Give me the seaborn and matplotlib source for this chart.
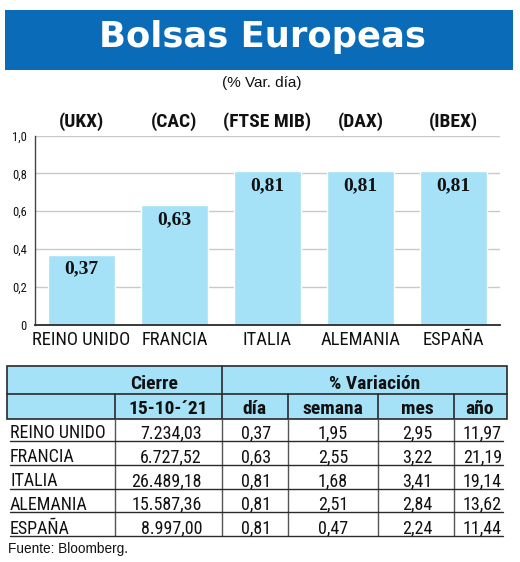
import matplotlib
matplotlib.use("Agg")
import matplotlib.pyplot as plt
import matplotlib.font_manager as fm
import matplotlib.transforms as mtransforms
from matplotlib.patches import Rectangle
import seaborn as sns

# ---------------- data ----------------
countries = ["REINO UNIDO", "FRANCIA", "ITALIA", "ALEMANIA", "ESPAÑA"]
codes = ["(UKX)", "(CAC)", "(FTSE MIB)", "(DAX)", "(IBEX)"]
var_dia = [0.37, 0.63, 0.81, 0.81, 0.81]
cierre = [7234.03, 6727.52, 26489.18, 15587.36, 8997.00]
var_semana = [1.95, 2.55, 1.68, 2.51, 0.47]
var_mes = [2.95, 3.22, 3.41, 2.84, 2.24]
var_anio = [11.97, 21.19, 19.14, 13.62, 11.44]
y_ticks = [0, 0.2, 0.4, 0.6, 0.8, 1.0]
y_tick_labels = ["0", "0,2", "0,4", "0,6", "0,8", "1,0"]
title = "Bolsas Europeas"
subtitle = "(% Var. día)"
fecha = "15-10-´21"
header_cols = ["día", "semana", "mes", "año"]
source = "Fuente: Bloomberg."

def es(v, d=2):
    s = f"{v:,.{d}f}"
    return s.replace(",", "X").replace(".", ",").replace("X", ".")

# ---------------- fonts ----------------
ttf = fm.fontManager.ttflist
names = {f.name for f in ttf}

def find_narrow():
    for p in ["Liberation Sans Narrow", "Roboto Condensed", "Open Sans Condensed",
              "Noto Sans Condensed", "DejaVu Sans Condensed", "Arial Narrow"]:
        if p in names:
            return dict(family=p), 1.0
    for fam in ["Noto Sans", "Open Sans", "DejaVu Sans", "Roboto", "Inter"]:
        for f in ttf:
            if f.name == fam and f.stretch in ("condensed", "semi-condensed", 600, 700):
                return dict(family=fam, fontstretch="condensed"), 1.0
    for f in ttf:
        if "Condensed" in f.name or "Narrow" in f.name:
            return dict(family=f.name), 1.0
    return dict(family="Roboto" if "Roboto" in names else "Liberation Sans"), 0.9

NARROW_KW, NSCALE = find_narrow()
SERIF = "Liberation Serif"
SANS = "Liberation Sans"

def nk(size, **extra):
    d = dict(NARROW_KW)
    d["fontsize"] = size * NSCALE
    d.update(extra)
    return d

sns.set_theme(style="white")
plt.rcParams["font.family"] = [SANS, "DejaVu Sans"]

W, H = 520, 562
fig = plt.figure(figsize=(W / 100, H / 100), dpi=100)
fig.patch.set_facecolor("white")

ov = fig.add_axes([0, 0, 1, 1], zorder=0)
ov.set_xlim(0, W)
ov.set_ylim(H, 0)
ov.axis("off")

BLUE = "#0a6cb8"
LIGHT = "#a5e2f8"
DARK = "#2a2a2a"

ov.add_patch(Rectangle((5, 10), 508, 60, facecolor=BLUE, edgecolor="none"))
ov.text(262, 47.5, title, color="white", fontsize=25.5, fontweight="bold",
        family="DejaVu Sans", ha="center", va="baseline")
ov.text(262, 87, subtitle, fontsize=11, family=SANS, ha="center", va="baseline", color="#111")

L, R, T, B = 35, 500, 135.5, 324.5
ax = fig.add_axes([L / W, (H - B) / H, (R - L) / W, (B - T) / H], zorder=2)
ax.patch.set_alpha(0)
sns.barplot(x=countries, y=var_dia, color=LIGHT, saturation=1, width=0.71, ax=ax, zorder=2)
ax.set_ylim(0, 1.0)
ax.set_xlim(-0.5, 4.5)
ax.set_yticks(y_ticks)
ax.set_yticklabels(y_tick_labels, color="#111", **nk(9))
ax.tick_params(axis="y", length=0, pad=6)
ax.tick_params(axis="x", length=0, pad=5)
ax.set_xticks(range(len(countries)))
ax.set_xticklabels(countries, color="#111", **nk(13.3))
ax.grid(axis="y", color="#c9c9c9", lw=1, zorder=0)
ax.set_axisbelow(True)
for s in ["top", "right"]:
    ax.spines[s].set_visible(False)
ax.spines["left"].set_color("#444")
ax.spines["left"].set_linewidth(1)
ax.spines["bottom"].set_color(DARK)
ax.spines["bottom"].set_linewidth(1.3)
ax.set_xlabel("")
ax.set_ylabel("")

for i, v in enumerate(var_dia):
    ax.annotate(es(v), (i, v), xytext=(0, -13.5), textcoords="offset points",
                ha="center", va="baseline", fontsize=14, fontweight="bold",
                family=SERIF, color="#111", zorder=3)

blend = mtransforms.blended_transform_factory(ax.transData, ov.transData)
for i, c in enumerate(codes):
    ov.text(i, 126.5, c, transform=blend, ha="center", va="baseline",
            color="#111", **nk(14, fontweight="bold"))

# ---------------- table ----------------
tx0, tx1 = 7, 507
ty0, ty1, ty2 = 366, 394, 419
ov.add_patch(Rectangle((tx0, ty0), tx1 - tx0, ty2 - ty0, facecolor=LIGHT,
                       edgecolor=DARK, lw=1.2, zorder=1))
ov.plot([tx0, tx1], [ty1, ty1], color=DARK, lw=1.2, zorder=2)
row_lines = [441 + i * 23.75 for i in range(len(countries))]
vlines = [115, 222, 288, 378, 454]
for xv in vlines:
    top = ty0 if xv == 222 else ty1
    ov.plot([xv, xv], [top, ty2], color=DARK, lw=1.2, zorder=2)
    ov.plot([xv, xv], [ty2, row_lines[-1]], color="#555", lw=1, zorder=2)

hdr_kw = dict(color="#111", ha="center", va="baseline", zorder=3, **nk(14, fontweight="bold"))
ov.text(154, 389, "Cierre", **hdr_kw)
ov.text(375, 389, "% Variación", **hdr_kw)
ov.text(168, 414, fecha, **hdr_kw)
for xc, h in zip([254, 333, 417, 479], header_cols):
    ov.text(xc, 414, h, **hdr_kw)

cell_kw = dict(color="#111", va="baseline", zorder=3, **nk(13))
for i, name in enumerate(countries):
    yl = row_lines[i]
    yb = yl - 2.5
    ov.plot([10, 503], [yl, yl], color=DARK, lw=1, zorder=2)
    ov.text(10, yb, name, ha="left", **cell_kw)
    ov.text(202, yb, es(cierre[i]), ha="right", **cell_kw)
    ov.text(256, yb, es(var_dia[i]), ha="center", **cell_kw)
    ov.text(333, yb, es(var_semana[i]), ha="center", **cell_kw)
    ov.text(417, yb, es(var_mes[i]), ha="center", **cell_kw)
    ov.text(502, yb, es(var_anio[i]), ha="right", **cell_kw)

ov.text(8, 553, source, ha="left", va="baseline", fontsize=9.8, family=SANS, color="#111")

fig.savefig("out.png", dpi=100, facecolor="white")
